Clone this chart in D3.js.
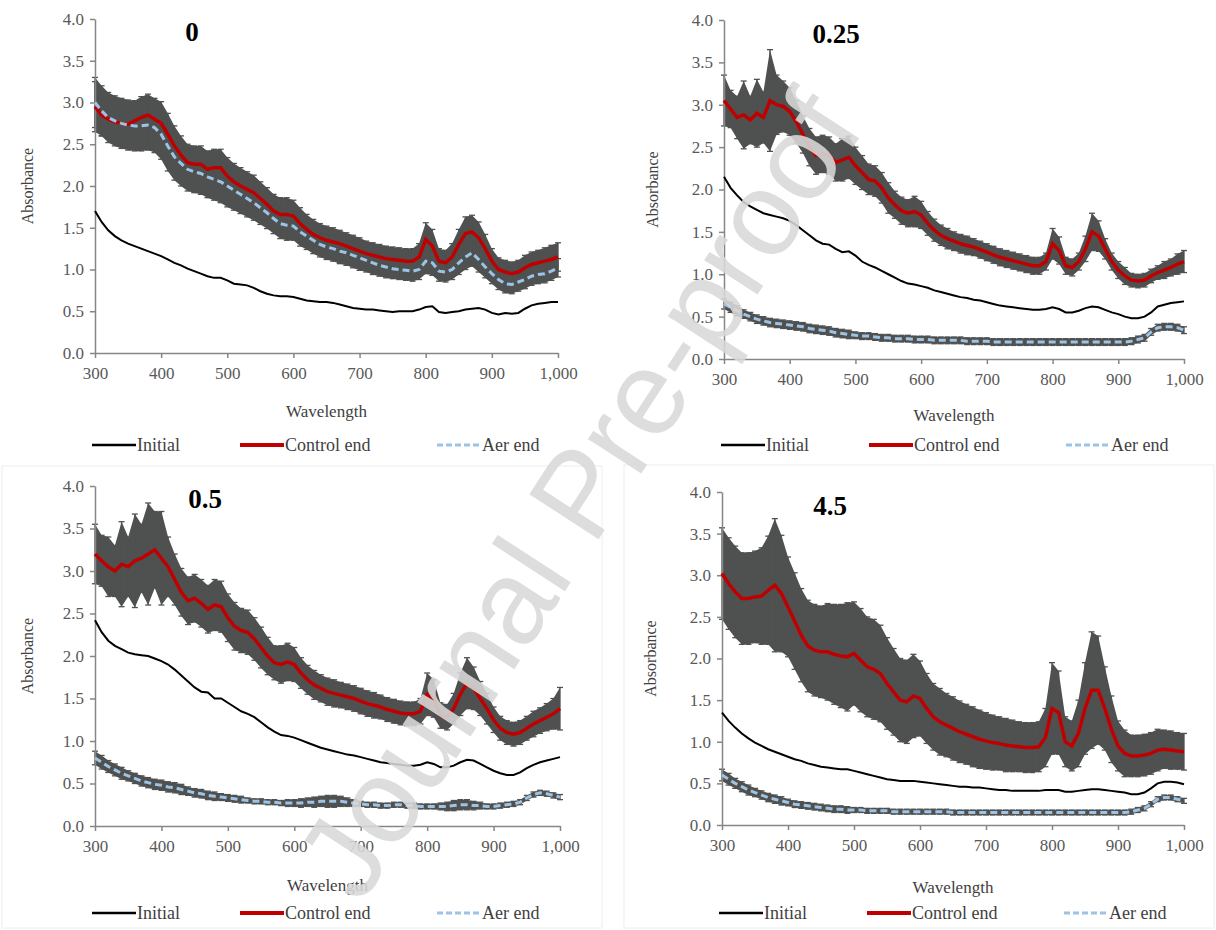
<!DOCTYPE html>
<html>
<head>
<meta charset="utf-8">
<script src="https://cdn.jsdelivr.net/npm/d3@7"></script>
<style>
  body { margin: 0; background: #fff; }
  svg { display: block; }
</style>
</head>
<body>
<svg width="1216" height="930"></svg>
<script>
// wavelengths (nm) shared by every series
const WAVELENGTHS = [300,310,320,330,340,350,360,370,380,390,
  400,410,420,430,440,450,460,470,480,490,
  500,510,520,530,540,550,560,570,580,590,
  600,610,620,630,640,650,660,670,680,690,
  700,710,720,730,740,750,760,770,780,790,
  800,810,820,830,840,850,860,870,880,890,
  900,910,920,930,940,950,960,970,980,990,
  1000];

const PANEL_TITLES = ['0', '0.25', '0.5', '4.5'];
const SERIES_NAMES = ['Initial', 'Control end', 'Aer end'];
const Y_TICKS = [0, 0.5, 1, 1.5, 2, 2.5, 3, 3.5, 4];
const X_TICKS = [300, 400, 500, 600, 700, 800, 900, 1000];

// panel "0"
const INITIAL_0 = [1.70,1.57,1.47,1.40,1.35,1.31,1.28,1.25,1.22,1.19,
  1.16,1.12,1.08,1.05,1.01,0.98,0.95,0.92,0.90,0.90,
  0.87,0.83,0.82,0.81,0.78,0.74,0.71,0.69,0.68,0.68,
  0.67,0.65,0.63,0.62,0.61,0.61,0.60,0.58,0.56,0.54,
  0.53,0.52,0.52,0.51,0.50,0.49,0.50,0.50,0.50,0.52,
  0.55,0.56,0.49,0.48,0.49,0.50,0.52,0.53,0.54,0.52,
  0.48,0.46,0.48,0.47,0.48,0.53,0.57,0.59,0.60,0.61,
  0.61];
const CONTROL_0 = [2.95,2.85,2.80,2.77,2.75,2.74,2.78,2.82,2.85,2.80,
  2.75,2.62,2.48,2.37,2.28,2.26,2.26,2.20,2.22,2.22,
  2.12,2.05,2.00,1.96,1.92,1.85,1.78,1.70,1.66,1.66,
  1.64,1.55,1.48,1.42,1.38,1.35,1.33,1.31,1.28,1.25,
  1.22,1.19,1.17,1.15,1.13,1.12,1.11,1.10,1.10,1.15,
  1.36,1.28,1.10,1.08,1.15,1.30,1.43,1.45,1.38,1.25,
  1.10,1.00,0.97,0.95,0.97,1.02,1.06,1.08,1.10,1.12,
  1.15];
const CONTROL_ERR_0 = [0.30,0.25,0.22,0.22,0.22,0.22,0.24,0.25,0.25,0.25,
  0.26,0.25,0.24,0.23,0.22,0.22,0.22,0.22,0.22,0.22,
  0.22,0.22,0.22,0.21,0.21,0.20,0.20,0.20,0.20,0.20,
  0.19,0.19,0.18,0.18,0.17,0.17,0.17,0.16,0.16,0.16,
  0.16,0.15,0.15,0.15,0.15,0.15,0.15,0.15,0.15,0.16,
  0.20,0.20,0.15,0.15,0.16,0.18,0.20,0.20,0.19,0.17,
  0.15,0.14,0.14,0.14,0.14,0.15,0.15,0.15,0.16,0.17,
  0.17];
const AER_0 = [3.00,2.90,2.82,2.78,2.75,2.73,2.72,2.72,2.73,2.70,
  2.62,2.48,2.35,2.27,2.20,2.17,2.15,2.11,2.08,2.05,
  2.00,1.95,1.90,1.85,1.80,1.74,1.68,1.61,1.55,1.53,
  1.52,1.45,1.40,1.35,1.30,1.27,1.25,1.22,1.20,1.17,
  1.14,1.11,1.08,1.05,1.03,1.01,1.00,0.99,0.98,1.00,
  1.10,1.08,0.98,0.97,1.00,1.08,1.15,1.20,1.12,1.03,
  0.95,0.88,0.83,0.82,0.85,0.88,0.92,0.94,0.95,0.98,
  1.02];
const AER_ERR_0 = [0.30,0.30,0.30,0.30,0.30,0.30,0.30,0.30,0.30,0.30,
  0.30,0.30,0.28,0.27,0.26,0.25,0.25,0.25,0.25,0.25,
  0.25,0.24,0.23,0.22,0.21,0.20,0.19,0.18,0.18,0.18,
  0.17,0.17,0.16,0.16,0.15,0.15,0.15,0.15,0.15,0.15,
  0.15,0.14,0.14,0.13,0.13,0.12,0.12,0.12,0.12,0.12,
  0.15,0.15,0.12,0.12,0.12,0.14,0.15,0.16,0.15,0.13,
  0.12,0.12,0.11,0.11,0.11,0.11,0.11,0.11,0.11,0.11,
  0.11];

// panel "0.25"
const INITIAL_1 = [2.15,2.02,1.93,1.85,1.80,1.76,1.72,1.70,1.68,1.66,
  1.63,1.58,1.52,1.46,1.40,1.36,1.35,1.30,1.26,1.27,
  1.22,1.15,1.11,1.08,1.04,1.00,0.96,0.92,0.89,0.88,
  0.86,0.84,0.81,0.79,0.77,0.75,0.73,0.72,0.70,0.69,
  0.67,0.65,0.63,0.62,0.61,0.60,0.59,0.58,0.58,0.59,
  0.61,0.59,0.55,0.55,0.57,0.60,0.62,0.61,0.58,0.55,
  0.53,0.50,0.48,0.48,0.50,0.55,0.62,0.64,0.66,0.67,
  0.68];
const CONTROL_1 = [3.05,2.95,2.85,2.88,2.82,2.90,2.85,3.05,3.00,2.98,
  2.92,2.80,2.65,2.50,2.40,2.42,2.40,2.32,2.35,2.38,
  2.28,2.20,2.12,2.10,2.02,1.90,1.82,1.75,1.72,1.74,
  1.70,1.60,1.52,1.46,1.42,1.39,1.36,1.34,1.32,1.29,
  1.26,1.23,1.20,1.18,1.16,1.14,1.12,1.10,1.10,1.15,
  1.36,1.28,1.10,1.08,1.15,1.30,1.50,1.45,1.30,1.15,
  1.05,0.98,0.93,0.92,0.93,0.98,1.02,1.05,1.08,1.12,
  1.15];
const CONTROL_ERR_1 = [0.30,0.22,0.25,0.40,0.28,0.40,0.30,0.60,0.35,0.30,
  0.28,0.25,0.22,0.22,0.22,0.22,0.22,0.22,0.25,0.25,
  0.22,0.20,0.18,0.18,0.18,0.18,0.16,0.16,0.16,0.18,
  0.16,0.14,0.13,0.12,0.12,0.11,0.11,0.11,0.10,0.10,
  0.10,0.10,0.10,0.10,0.10,0.10,0.10,0.10,0.10,0.10,
  0.18,0.16,0.10,0.10,0.10,0.15,0.22,0.18,0.12,0.10,
  0.10,0.10,0.08,0.08,0.08,0.08,0.08,0.10,0.10,0.12,
  0.13];
const AER_1 = [0.65,0.61,0.57,0.53,0.50,0.47,0.45,0.43,0.42,0.41,
  0.40,0.39,0.38,0.36,0.35,0.34,0.33,0.31,0.30,0.29,
  0.28,0.27,0.27,0.26,0.25,0.25,0.24,0.24,0.24,0.23,
  0.23,0.23,0.22,0.22,0.22,0.22,0.22,0.21,0.21,0.21,
  0.21,0.20,0.20,0.20,0.20,0.20,0.20,0.20,0.20,0.20,
  0.20,0.20,0.20,0.20,0.20,0.20,0.20,0.20,0.20,0.20,
  0.20,0.20,0.21,0.23,0.25,0.32,0.37,0.38,0.38,0.37,
  0.34];
const AER_ERR_1 = [0.06,0.06,0.06,0.05,0.05,0.05,0.05,0.05,0.05,0.05,
  0.05,0.05,0.05,0.05,0.05,0.05,0.05,0.05,0.05,0.05,
  0.04,0.04,0.04,0.04,0.04,0.04,0.04,0.04,0.04,0.04,
  0.04,0.04,0.04,0.04,0.04,0.04,0.04,0.04,0.04,0.04,
  0.04,0.04,0.04,0.04,0.04,0.04,0.04,0.04,0.04,0.04,
  0.04,0.04,0.04,0.04,0.04,0.04,0.04,0.04,0.04,0.04,
  0.04,0.04,0.04,0.04,0.04,0.04,0.04,0.04,0.04,0.04,
  0.04];

// panel "0.5"
const INITIAL_2 = [2.42,2.28,2.18,2.12,2.08,2.04,2.02,2.01,2.00,1.97,
  1.94,1.90,1.84,1.77,1.70,1.63,1.58,1.57,1.50,1.50,
  1.45,1.40,1.35,1.32,1.28,1.22,1.16,1.11,1.07,1.06,
  1.04,1.01,0.98,0.95,0.92,0.90,0.88,0.86,0.84,0.83,
  0.81,0.79,0.77,0.75,0.74,0.73,0.72,0.71,0.71,0.72,
  0.75,0.73,0.69,0.69,0.71,0.75,0.78,0.77,0.73,0.69,
  0.65,0.62,0.60,0.60,0.63,0.68,0.72,0.75,0.77,0.79,
  0.81];
const CONTROL_2 = [3.20,3.12,3.05,3.00,3.08,3.05,3.12,3.15,3.20,3.25,
  3.15,3.05,2.90,2.75,2.65,2.68,2.62,2.55,2.60,2.58,
  2.45,2.35,2.30,2.28,2.20,2.10,2.00,1.92,1.90,1.93,
  1.90,1.80,1.72,1.66,1.62,1.58,1.56,1.54,1.52,1.50,
  1.47,1.44,1.42,1.40,1.37,1.35,1.33,1.32,1.32,1.35,
  1.55,1.50,1.30,1.28,1.38,1.55,1.68,1.62,1.50,1.38,
  1.25,1.15,1.10,1.08,1.10,1.15,1.20,1.24,1.28,1.32,
  1.38];
const CONTROL_ERR_2 = [0.35,0.30,0.35,0.30,0.50,0.35,0.55,0.40,0.60,0.45,
  0.55,0.35,0.30,0.28,0.28,0.28,0.28,0.28,0.30,0.30,
  0.28,0.28,0.26,0.26,0.25,0.24,0.22,0.20,0.22,0.22,
  0.20,0.18,0.17,0.17,0.16,0.16,0.16,0.15,0.15,0.15,
  0.15,0.15,0.15,0.14,0.14,0.14,0.14,0.14,0.14,0.15,
  0.25,0.22,0.15,0.15,0.18,0.25,0.30,0.25,0.20,0.18,
  0.15,0.14,0.14,0.14,0.14,0.14,0.15,0.15,0.16,0.18,
  0.25];
const AER_2 = [0.80,0.75,0.70,0.66,0.62,0.59,0.56,0.53,0.51,0.49,
  0.48,0.46,0.45,0.43,0.41,0.39,0.38,0.36,0.35,0.34,
  0.33,0.32,0.31,0.30,0.29,0.29,0.28,0.28,0.27,0.27,
  0.27,0.27,0.28,0.28,0.29,0.29,0.29,0.29,0.28,0.27,
  0.26,0.25,0.25,0.24,0.24,0.25,0.25,0.24,0.24,0.23,
  0.23,0.23,0.23,0.23,0.24,0.25,0.25,0.24,0.24,0.23,
  0.23,0.24,0.25,0.26,0.28,0.33,0.37,0.39,0.38,0.36,
  0.34];
const AER_ERR_2 = [0.08,0.08,0.07,0.07,0.07,0.06,0.06,0.06,0.06,0.06,
  0.06,0.06,0.06,0.06,0.05,0.05,0.05,0.05,0.05,0.04,
  0.04,0.04,0.04,0.03,0.03,0.03,0.03,0.03,0.03,0.04,
  0.04,0.05,0.05,0.06,0.06,0.07,0.07,0.06,0.05,0.04,
  0.03,0.03,0.03,0.03,0.03,0.03,0.03,0.03,0.03,0.03,
  0.03,0.03,0.04,0.05,0.06,0.06,0.06,0.05,0.04,0.03,
  0.03,0.03,0.03,0.03,0.03,0.03,0.03,0.03,0.03,0.03,
  0.03];

// panel "4.5"
const INITIAL_3 = [1.35,1.25,1.17,1.10,1.04,0.99,0.95,0.91,0.88,0.85,
  0.82,0.79,0.77,0.74,0.72,0.70,0.69,0.68,0.67,0.67,
  0.65,0.63,0.61,0.59,0.57,0.55,0.54,0.53,0.53,0.53,
  0.52,0.51,0.50,0.49,0.48,0.47,0.46,0.46,0.45,0.45,
  0.44,0.43,0.42,0.42,0.41,0.41,0.41,0.41,0.41,0.42,
  0.42,0.42,0.40,0.40,0.41,0.42,0.43,0.43,0.42,0.41,
  0.40,0.39,0.37,0.37,0.39,0.44,0.50,0.52,0.52,0.51,
  0.49];
const CONTROL_3 = [3.02,2.90,2.80,2.72,2.72,2.74,2.75,2.82,2.88,2.78,
  2.62,2.45,2.28,2.15,2.10,2.08,2.08,2.05,2.03,2.02,
  2.06,1.98,1.90,1.87,1.82,1.70,1.60,1.50,1.48,1.55,
  1.52,1.40,1.30,1.24,1.20,1.16,1.12,1.09,1.06,1.03,
  1.01,0.99,0.98,0.96,0.95,0.94,0.93,0.93,0.94,1.05,
  1.40,1.35,1.00,0.95,1.10,1.40,1.62,1.62,1.40,1.15,
  0.95,0.86,0.83,0.83,0.84,0.86,0.90,0.91,0.90,0.89,
  0.88];
const CONTROL_ERR_3 = [0.55,0.55,0.55,0.55,0.55,0.55,0.58,0.65,0.80,0.70,
  0.60,0.58,0.56,0.55,0.55,0.55,0.58,0.60,0.62,0.65,
  0.62,0.62,0.60,0.60,0.58,0.55,0.52,0.50,0.50,0.50,
  0.45,0.42,0.40,0.40,0.38,0.38,0.37,0.36,0.36,0.35,
  0.34,0.33,0.32,0.32,0.31,0.30,0.30,0.30,0.30,0.35,
  0.55,0.50,0.30,0.30,0.40,0.55,0.70,0.65,0.50,0.40,
  0.30,0.28,0.25,0.25,0.25,0.25,0.25,0.23,0.23,0.22,
  0.22];
const AER_3 = [0.60,0.55,0.50,0.46,0.42,0.39,0.36,0.33,0.31,0.29,
  0.27,0.25,0.24,0.23,0.22,0.21,0.20,0.19,0.19,0.18,
  0.18,0.18,0.17,0.17,0.17,0.17,0.16,0.16,0.16,0.16,
  0.16,0.16,0.16,0.16,0.16,0.15,0.15,0.15,0.15,0.15,
  0.15,0.15,0.15,0.15,0.15,0.15,0.15,0.15,0.15,0.15,
  0.15,0.15,0.15,0.15,0.15,0.15,0.15,0.15,0.15,0.15,
  0.15,0.15,0.16,0.18,0.20,0.25,0.31,0.33,0.33,0.31,
  0.29];
const AER_ERR_3 = [0.07,0.07,0.06,0.06,0.06,0.05,0.05,0.05,0.05,0.05,
  0.04,0.04,0.04,0.04,0.04,0.04,0.04,0.04,0.04,0.04,
  0.03,0.03,0.03,0.03,0.03,0.03,0.03,0.03,0.03,0.03,
  0.03,0.03,0.03,0.03,0.03,0.03,0.03,0.03,0.03,0.03,
  0.03,0.03,0.03,0.03,0.03,0.03,0.03,0.03,0.03,0.03,
  0.03,0.03,0.03,0.03,0.03,0.03,0.03,0.03,0.03,0.03,
  0.03,0.03,0.03,0.03,0.03,0.03,0.03,0.03,0.03,0.03,
  0.03];

// where each panel sits on the page
const LAYOUT = [
  {x0: 95, x1: 558, yTop: 19, yBot: 353, titleX: 192, titleY: 41, yTitleX: 27, xTitleY: 411, legendY: 445},
  {x0: 724, x1: 1184, yTop: 20, yBot: 359, titleX: 836, titleY: 43, yTitleX: 652, xTitleY: 415, legendY: 445},
  {x0: 95, x1: 560, yTop: 486, yBot: 826, titleX: 205, titleY: 508, yTitleX: 27, xTitleY: 885, legendY: 913},
  {x0: 722, x1: 1184, yTop: 492, yBot: 825, titleX: 830, titleY: 515, yTitleX: 650, xTitleY: 887, legendY: 913}
];

const SERIES = [
  {initial: INITIAL_0, control: CONTROL_0, controlErr: CONTROL_ERR_0, aer: AER_0, aerErr: AER_ERR_0},
  {initial: INITIAL_1, control: CONTROL_1, controlErr: CONTROL_ERR_1, aer: AER_1, aerErr: AER_ERR_1},
  {initial: INITIAL_2, control: CONTROL_2, controlErr: CONTROL_ERR_2, aer: AER_2, aerErr: AER_ERR_2},
  {initial: INITIAL_3, control: CONTROL_3, controlErr: CONTROL_ERR_3, aer: AER_3, aerErr: AER_ERR_3}
];

const COLORS = {initial: '#000000', control: '#c00000', aer: '#9dc3e6', err: '#4f5150', axis: '#868686', label: '#595959'};
const SERIF = '"Liberation Serif", "Times New Roman", serif';

const svg = d3.select('svg');

// faint chart-area borders
svg.append('rect').attr('x', 2).attr('y', 466).attr('width', 600).attr('height', 462)
  .attr('fill', 'none').attr('stroke', '#eeeeee');
svg.append('rect').attr('x', 624).attr('y', 465).attr('width', 590).attr('height', 463)
  .attr('fill', 'none').attr('stroke', '#eeeeee');

function drawPanel(i) {
  const L = LAYOUT[i];
  const s = SERIES[i];
  const x = d3.scaleLinear().domain([300, 1000]).range([L.x0, L.x1]);
  const y = d3.scaleLinear().domain([0, 4]).range([L.yBot, L.yTop]);
  const g = svg.append('g');

  const rows = WAVELENGTHS.map((w, k) => ({
    w: w, ini: s.initial[k], ctl: s.control[k], ce: s.controlErr[k], aer: s.aer[k], ae: s.aerErr[k]
  }));

  // error bands (filled band plus capped bars)
  const bands = [['ctl', 'ce'], ['aer', 'ae']];
  bands.forEach(([v, e]) => {
    g.append('path').datum(rows)
      .attr('fill', COLORS.err)
      .attr('d', d3.area().x(d => x(d.w)).y0(d => y(d[v] - d[e])).y1(d => y(d[v] + d[e])));
    const bars = g.append('g').selectAll('g').data(rows).enter().append('g')
      .attr('stroke', COLORS.err).attr('stroke-width', 1.3);
    bars.append('line').attr('x1', d => x(d.w)).attr('x2', d => x(d.w))
      .attr('y1', d => y(d[v] - d[e])).attr('y2', d => y(d[v] + d[e]));
    bars.append('line').attr('x1', d => x(d.w) - 3).attr('x2', d => x(d.w) + 3)
      .attr('y1', d => y(d[v] + d[e])).attr('y2', d => y(d[v] + d[e]));
    bars.append('line').attr('x1', d => x(d.w) - 3).attr('x2', d => x(d.w) + 3)
      .attr('y1', d => y(d[v] - d[e])).attr('y2', d => y(d[v] - d[e]));
  });

  // axes
  const yAxis = g.append('g').attr('transform', `translate(${L.x0},0)`)
    .call(d3.axisLeft(y).tickValues(Y_TICKS).tickFormat(d3.format('.1f')).tickSizeInner(5).tickSizeOuter(0).tickPadding(6));
  const xAxis = g.append('g').attr('transform', `translate(0,${L.yBot})`)
    .call(d3.axisBottom(x).tickValues(X_TICKS).tickFormat(d3.format(',')).tickSizeInner(5).tickSizeOuter(0).tickPadding(9));
  [yAxis, xAxis].forEach(a => {
    a.select('.domain').attr('stroke', COLORS.axis).attr('stroke-width', 1.5);
    a.selectAll('.tick line').attr('stroke', COLORS.axis).attr('stroke-width', 1.5);
    a.selectAll('.tick text').attr('fill', COLORS.label)
      .style('font-family', SERIF).style('font-size', '17px');
  });

  // data lines
  const lineOf = key => d3.line().x(d => x(d.w)).y(d => y(d[key]));
  g.append('path').datum(rows).attr('fill', 'none').attr('stroke', COLORS.initial)
    .attr('stroke-width', 2).attr('d', lineOf('ini'));
  g.append('path').datum(rows).attr('fill', 'none').attr('stroke', COLORS.control)
    .attr('stroke-width', 3.5).attr('d', lineOf('ctl'));
  g.append('path').datum(rows).attr('fill', 'none').attr('stroke', COLORS.aer)
    .attr('stroke-width', 3).attr('stroke-dasharray', '7,4').attr('d', lineOf('aer'));

  // titles
  g.append('text').attr('x', L.titleX).attr('y', L.titleY).attr('text-anchor', 'middle')
    .style('font-family', SERIF).style('font-size', '27px').style('font-weight', 'bold')
    .attr('fill', '#000').text(PANEL_TITLES[i]);
  g.append('text').attr('transform', `translate(${L.yTitleX},${(L.yTop + L.yBot) / 2}) rotate(-90)`)
    .attr('text-anchor', 'middle').attr('dy', '0.35em')
    .style('font-family', SERIF).style('font-size', '16px').attr('fill', '#404040')
    .text('Absorbance');
  g.append('text').attr('x', (L.x0 + L.x1) / 2).attr('y', L.xTitleY).attr('text-anchor', 'middle')
    .attr('dy', '0.35em').style('font-family', SERIF).style('font-size', '17px')
    .attr('fill', '#404040').text('Wavelength');

  // legend
  const legendX = [L.x0 - 3, L.x0 + 145, L.x0 + 342];
  const legendStyle = [
    {stroke: COLORS.initial, width: 2.5, dash: null},
    {stroke: COLORS.control, width: 4, dash: null},
    {stroke: COLORS.aer, width: 3, dash: '6,3'}
  ];
  SERIES_NAMES.forEach((name, k) => {
    const lx = legendX[k];
    g.append('line').attr('x1', lx).attr('x2', lx + 44).attr('y1', L.legendY).attr('y2', L.legendY)
      .attr('stroke', legendStyle[k].stroke).attr('stroke-width', legendStyle[k].width)
      .attr('stroke-dasharray', legendStyle[k].dash);
    g.append('text').attr('x', lx + 45).attr('y', L.legendY).attr('dy', '0.35em')
      .style('font-family', SERIF).style('font-size', '18px')
      .attr('fill', '#404040').text(name);
  });
}

PANEL_TITLES.forEach((t, i) => drawPanel(i));

// watermark on top of everything
svg.append('text')
  .attr('transform', 'translate(578,494) rotate(-57)')
  .attr('text-anchor', 'middle').attr('dy', '0.35em')
  .style('font-family', '"Liberation Sans", Arial, sans-serif')
  .style('font-size', '120px')
  .attr('fill', '#d9d9d9').attr('opacity', 0.88)
  .text('Journal Pre-proof');
</script>
</body>
</html>
